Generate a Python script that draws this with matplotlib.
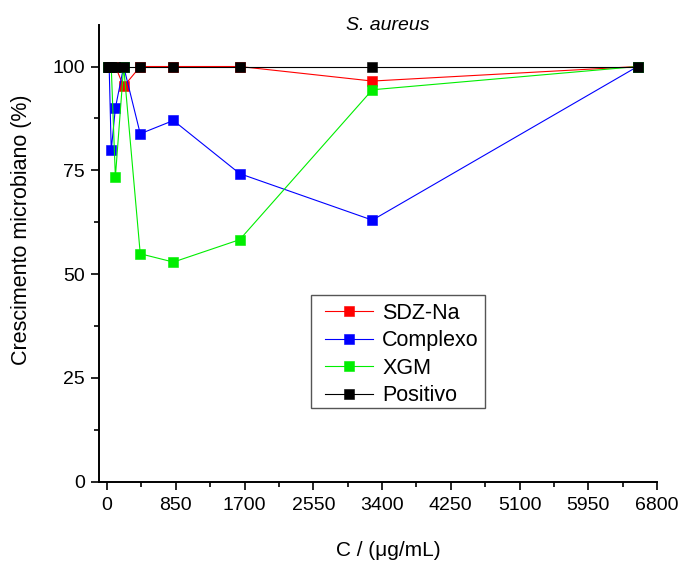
import matplotlib
matplotlib.use("Agg")
import matplotlib.pyplot as plt
from matplotlib.ticker import MultipleLocator
from matplotlib.patches import Rectangle

plt.rcParams['font.family'] = ['Liberation Sans', 'DejaVu Sans']

# Concentrations (µg/mL), two-fold dilution series
conc = [12.8, 25.6, 51.25, 102.5, 205, 410, 820, 1640, 3280, 6560]

# Microbial growth (%) per sample
sdz_na   = [100, 100, 100, 100, 95.2, 100, 100, 100, 96.5, 100]
complexo = [100, 100, 79.8, 90.0, 100, 83.8, 87.0, 74.2, 63.0, 100]
xgm      = [100, 100, 100, 73.4, 100, 54.9, 52.9, 58.3, 94.4, 100]
positivo = [100, 100, 100, 100, 100, 100, 100, 100, 100, 100]

series = [
    ("SDZ-Na", sdz_na, "#ff0000"),
    ("Complexo", complexo, "#0000ff"),
    ("XGM", xgm, "#00ee00"),
    ("Positivo", positivo, "#000000"),
]

x_ticks = [0, 850, 1700, 2550, 3400, 4250, 5100, 5950, 6800]
y_ticks = [0, 25, 50, 75, 100]

W, H = 680, 563
fig = plt.figure(figsize=(W / 100, H / 100), dpi=100)
AX_L, AX_R, AX_T, AX_B = 99, 657, 25, 481.7
ax = fig.add_axes([AX_L / W, 1 - AX_B / H, (AX_R - AX_L) / W, (AX_B - AX_T) / H])

for name, vals, col in series:
    ax.plot(conc, vals, color=col, lw=0.8, marker="s", markersize=7,
            markerfacecolor=col, markeredgecolor=col, markeredgewidth=0.4,
            label=name)

ax.set_xlim(-100, 6800)
ax.set_ylim(0, 110)
ax.set_xticks(x_ticks)
ax.set_yticks(y_ticks)
ax.xaxis.set_minor_locator(MultipleLocator(425))
ax.yaxis.set_minor_locator(MultipleLocator(12.5))
ax.tick_params(which="major", direction="out", length=6, width=1.2, labelsize=14)
ax.tick_params(which="minor", direction="out", length=3.5, width=1.2)
ax.tick_params(axis="x", pad=5)
ax.tick_params(axis="y", pad=4)

for side in ("top", "right"):
    ax.spines[side].set_visible(False)
for side in ("left", "bottom"):
    ax.spines[side].set_linewidth(1.4)

fig.text(388 / W, 1 - 550 / H, "C / (μg/mL)", fontsize=15,
         ha="center", va="center")
fig.text(22 / W, 1 - 230 / H, "Crescimento microbiano (%)", fontsize=15.5,
         rotation=90, ha="center", va="center")
fig.text(388 / W, 1 - 25 / H, "S. aureus", fontsize=14, style="italic",
         ha="center", va="center")


def fig_px(x, y):
    """Pixel position (from top-left) to figure fraction."""
    return x / W, 1 - y / H


# Legend entries without frame; the box is drawn separately
leg = fig.legend(*ax.get_legend_handles_labels(), loc="upper left",
                 bbox_to_anchor=fig_px(325, 303),
                 fontsize=15.5, frameon=False,
                 handlelength=2.23, handletextpad=0.42,
                 borderpad=0, labelspacing=0.30, borderaxespad=0)

bx0, by0 = fig_px(311, 408)
bx1, by1 = fig_px(485, 295)
fig.patches.append(Rectangle((bx0, by0), bx1 - bx0, by1 - by0,
                             transform=fig.transFigure, fill=False,
                             edgecolor="#555555", linewidth=1.0, zorder=5))

fig.savefig("out.png", dpi=100)
